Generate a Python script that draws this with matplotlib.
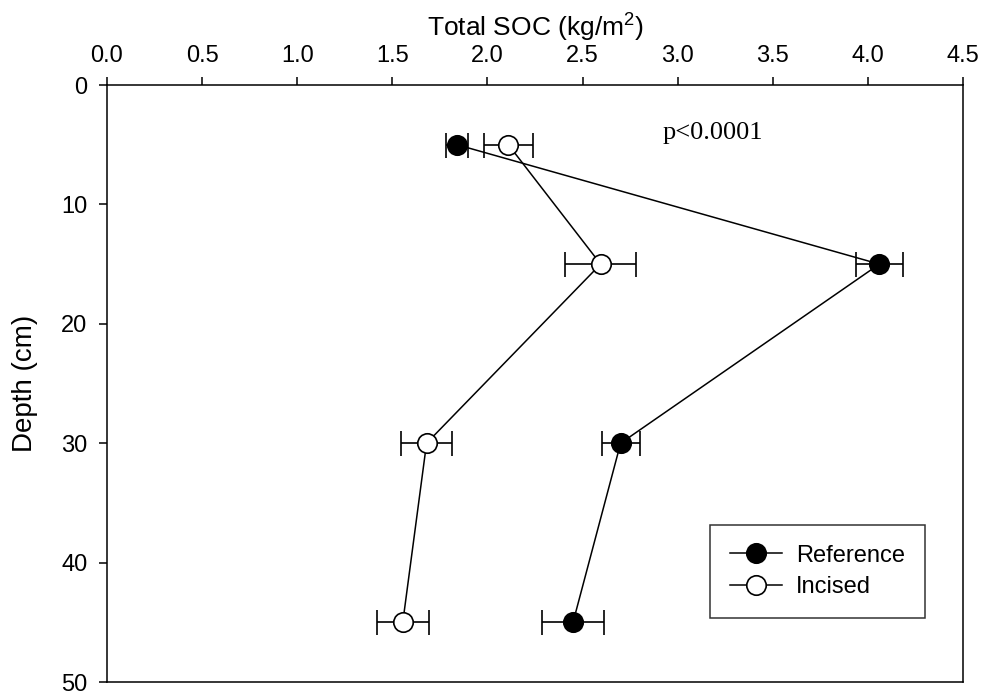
import matplotlib
matplotlib.use("Agg")
import matplotlib.pyplot as plt
from matplotlib.ticker import FormatStrFormatter

plt.rcParams['font.family'] = ['Liberation Sans', 'DejaVu Sans']
plt.rcParams['mathtext.fontset'] = 'custom'
plt.rcParams['mathtext.rm'] = 'Liberation Sans'
plt.rcParams['mathtext.it'] = 'Liberation Sans'

# data
depth = [5, 15, 30, 45]
ref_soc = [1.84, 4.06, 2.70, 2.45]
ref_err = [0.06, 0.125, 0.10, 0.165]
inc_soc = [2.11, 2.595, 1.68, 1.555]
inc_err = [0.127, 0.185, 0.136, 0.138]


def main():
    fig = plt.figure(figsize=(9.84, 6.98), dpi=100)
    ax = fig.add_axes([0.1087, 0.0229, 0.8700, 0.8553])

    ax.errorbar(ref_soc, depth, xerr=ref_err, fmt='none', ecolor='black',
                elinewidth=1.2, capsize=9, capthick=1.2, zorder=2)
    ax.errorbar(inc_soc, depth, xerr=inc_err, fmt='none', ecolor='black',
                elinewidth=1.2, capsize=9, capthick=1.2, zorder=2)

    ax.plot(ref_soc, depth, '-o', color='black', lw=1.1, ms=14,
            mfc='black', mec='black', mew=1.2, label='Reference', zorder=3)
    ax.plot(inc_soc, depth, '-o', color='black', lw=1.1, ms=14,
            mfc='white', mec='black', mew=1.2, label='Incised', zorder=3)

    ax.set_xlim(0, 4.5)
    ax.set_ylim(50, 0)
    ax.set_xticks([0.0, 0.5, 1.0, 1.5, 2.0, 2.5, 3.0, 3.5, 4.0, 4.5])
    ax.set_yticks([0, 10, 20, 30, 40, 50])
    ax.xaxis.set_major_formatter(FormatStrFormatter('%.1f'))

    ax.xaxis.tick_top()
    ax.xaxis.set_label_position('top')
    ax.tick_params(axis='both', direction='out', length=6, width=1.1,
                   labelsize=17)
    ax.tick_params(axis='x', pad=7)
    ax.tick_params(axis='y', pad=8)
    for s in ax.spines.values():
        s.set_linewidth(1.1)

    ax.set_xlabel('Total SOC (kg/m$^2$)', fontsize=19, labelpad=6)
    ax.set_ylabel('Depth (cm)', fontsize=20, labelpad=17)

    ax.text(2.92, 4.0, 'p<0.0001', fontsize=19, va='center', ha='left',
            family='Liberation Serif')

    leg = ax.legend(loc='lower right', bbox_to_anchor=(0.956, 0.107),
                    borderaxespad=0, fontsize=17, frameon=True,
                    fancybox=False, handlelength=2.2, borderpad=0.85,
                    labelspacing=0.4, handletextpad=0.6)
    leg.get_frame().set_edgecolor('black')
    leg.get_frame().set_linewidth(1.1)

    fig.savefig('out.png', dpi=100)


if __name__ == "__main__":
    main()
